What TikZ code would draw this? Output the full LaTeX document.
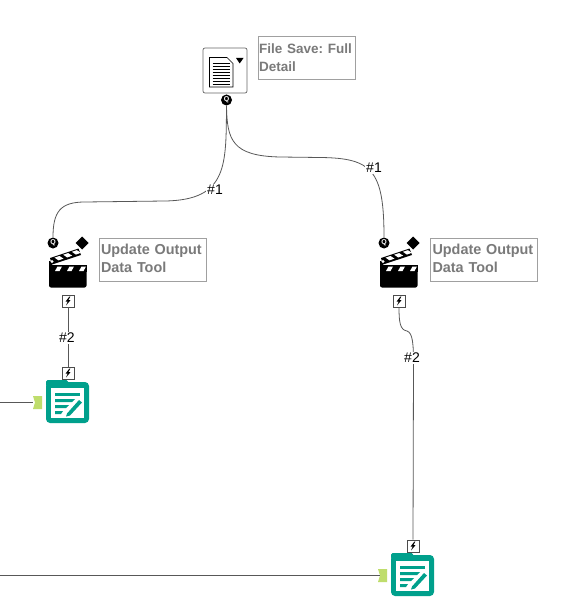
\documentclass[tikz,border=0pt]{standalone}
\usepackage{fontspec}
\setmainfont{Liberation Sans}
\frenchspacing
\newcommand{\clapicon}[2]{%
\begin{scope}[shift={(#1,#2)}]
  \fill[black,rounded corners=2] (49,268) rectangle (86.5,287.5);
  \fill[black] (49,265) rectangle (86.5,272);
  \foreach \a in {55,67,79}{\fill[white] (\a,271) -- (\a+4.5,271) -- (\a+7,266.5) -- (\a+2.5,266.5) -- cycle;}
  \fill[black] (50,258) -- (78.5,248.5) -- (81,255) -- (52,264.5) -- cycle;
  \foreach \a in {0,1,2}{\fill[white] (54.5+8.7*\a,257.6-2.9*\a) -- (59.5+8.7*\a,256-2.9*\a) -- (63.5+8.7*\a,258.6-2.9*\a) -- (58.5+8.7*\a,260.4-2.9*\a) -- cycle;}
  \fill[black] (49,261) rectangle (52,268);
  \fill[white] (52,261.5) circle (1.6);
  \fill[black] (82,236.5) -- (88.5,243) -- (82,249.5) -- (75.5,243) -- cycle;
\end{scope}}
\newcommand{\outicon}[2]{%
\begin{scope}[shift={(#1,#2)}]
  \fill[teal1,rounded corners=4] (0,2) rectangle (43,43);
  \fill[teal1,rounded corners=1.5] (0,0) rectangle (22,6);
  \fill[white] (5,8) rectangle (38,37.5);
  \fill[teal1] (9,12.5) rectangle (34,15.5);
  \fill[teal1] (9,19) -- (29,19) -- (26,22) -- (9,22) -- cycle;
  \fill[teal1] (9,25) -- (23,25) -- (20,28) -- (9,28) -- cycle;
  \fill[teal1] (9,31) -- (17,31) -- (15,34) -- (9,34) -- cycle;
  \fill[teal1] (21,33.5) -- (33,20) -- (36,22.5) -- (24,35.5) -- (20,36.5) -- cycle;
\end{scope}}
\newcommand{\zbolt}[1]{\fill[black] ($(#1)+(1.4,-4.5)$) -- ($(#1)+(-2.4,0.6)$) -- ($(#1)+(-0.3,0.6)$) -- ($(#1)+(-2,4.5)$) -- ($(#1)+(2.6,-1)$) -- ($(#1)+(0.4,-1)$) -- ($(#1)+(2.4,-4.5)$) -- cycle;}
\newcommand{\lline}[2][2pt]{\rlap{\hspace{#1}\raisebox{2pt}{#2}}}
\definecolor{teal1}{HTML}{00A08C}
\definecolor{anch}{HTML}{BFDD6C}
\definecolor{boxg}{HTML}{A0A0A0}
\definecolor{wire}{HTML}{585858}
\definecolor{lblt}{HTML}{7A7A7A}
\usetikzlibrary{calc}
\tikzset{
  x=1pt,y=-1pt,
  lbl/.style={draw=boxg,line width=1pt,align=left,anchor=north west,font=\bfseries\fontsize{14.4}{18}\selectfont,text=lblt,inner sep=0pt,text width=#1,minimum height=43},
  wirel/.style={draw=wire,line width=0.8pt},
  num/.style={fill=white,inner sep=1.5pt,font=\fontsize{14}{16}\selectfont},
  qport/.style={circle,fill=black,minimum size=11,inner sep=0pt,text=white,font=\bfseries\fontsize{7}{7}\selectfont},
  zport/.style={draw=black!70,fill=white,minimum size=12,inner sep=0pt,line width=.7pt},
  inport/.style={minimum width=9,minimum height=13,inner sep=0pt},
  fileicon/.style={draw=black!60,fill=white,rounded corners=2,line width=.7pt,minimum width=44,minimum height=45,inner sep=0pt},
}
\begin{document}
\begin{tikzpicture}
\useasboundingbox[fill=white] (0,0) rectangle (566,612);
% file tool
\node[fileicon] (file) at (225,70.5) {};
\fill[white,draw=black,line width=.6pt] (209.5,57.5) -- (227,57.5) -- (233,63.5) -- (233,87) -- (209.5,87) -- cycle;
\foreach \y in {63,66,69,72,75,78,81,84}{\draw[black,line width=.9pt] (212.5,\y) -- (230,\y);}
\fill[black] (236,58) -- (243.5,58) -- (239.7,63.5) -- cycle;
\node[qport] (fq) at (226.5,100) {Q};
\node[lbl=97] (fl) at (257.5,36.5) {\fontsize{13.5}{18}\selectfont\lline[1pt]{File Save: Full}\\\lline[1pt]{Detail}};
% clappers
\clapicon{0}{0}
\clapicon{331}{0}
\node[qport] (aq) at (53,243) {Q};
\node[qport] (bq) at (384,243) {Q};
\node[zport] (az) at (68,301) {};
\node[zport] (bz) at (399,301) {};
\zbolt{az}\zbolt{bz}
\node[lbl=107] (al) at (98.5,237.5) {\lline{Update Output}\\\lline{Data Tool}};
\node[lbl=107] (bl) at (430,237.5) {\lline{Update Output}\\\lline{Data Tool}};
% output tools
\outicon{46}{380}
\outicon{391}{553}
\node[zport] (cz) at (68,373) {};
\node[zport] (dz) at (413,546) {};
\zbolt{cz}\zbolt{dz}
\node[inport] (cin) at (37.5,402.5) {};
\node[inport] (din) at (382.5,575.5) {};
\fill[anch] (33,396) -- (42,396) -- (42,409) -- (33,409) -- (35,402.5) -- cycle;
\fill[anch] (378,569) -- (387,569) -- (387,582) -- (378,582) -- (380,575.5) -- cycle;
\coordinate (cfree) at (0,402.5);
\coordinate (dfree) at (0,575.5);
% connectors
\draw[wirel] (fq.south) .. controls (226,165) and (228,200) .. (165,201) -- (85,202) .. controls (60,202) and (53,212) .. (aq.north);
\draw[wirel] (fq.south) .. controls (227,140) and (232,156) .. (280,157) -- (320,157.5) .. controls (372,158) and (384,170) .. (bq.north);
\draw[wirel] (az.south) -- (cz.north);
\draw[wirel] (bz.south) .. controls (399,322) and (400,330) .. (407,331) .. controls (413,333) and (413.5,345) .. (413.5,365) -- (dz.north);
\draw[wirel] (cfree) -- (33,402.5);
\draw[wirel] (dfree) -- (380,575.5);
\node[num] at (215,190) {\#1};
\node[num] at (374,168) {\#1};
\node[num] at (67,338) {\#2};
\node[num] at (412,358) {\#2};
\end{tikzpicture}
\end{document}
